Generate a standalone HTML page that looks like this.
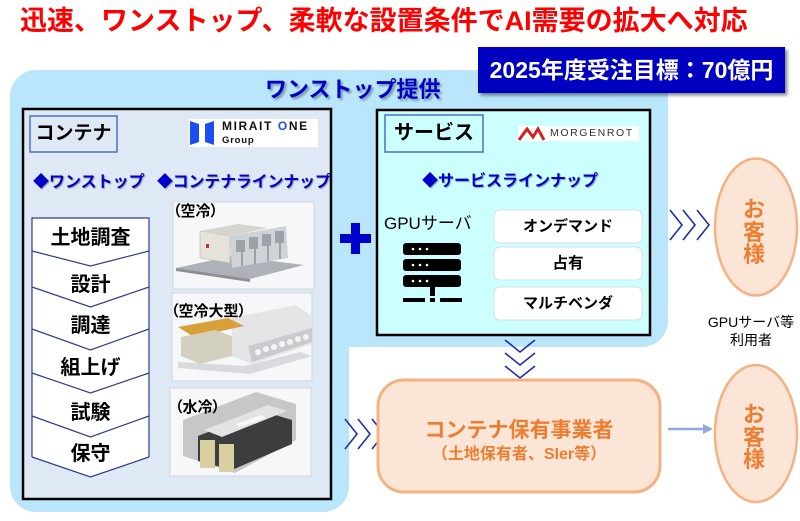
<!DOCTYPE html>
<html><head><meta charset="utf-8">
<style>
*{margin:0;padding:0;box-sizing:border-box}
html,body{width:800px;height:521px;background:#fff;overflow:hidden}
body{position:relative;font-family:"Liberation Sans","Noto Sans CJK JP",sans-serif}
.t{position:absolute;white-space:nowrap;line-height:1}
.c{text-align:center}
.b{font-weight:bold}
.blue{color:#0000cc;text-shadow:1px 1px 1px rgba(0,0,0,0.35)}
svg{position:absolute;left:0;top:0}
</style></head><body>
<svg width="800" height="521" viewBox="0 0 800 521">
  <defs>
    <filter id="sh" x="-5%" y="-5%" width="115%" height="130%">
      <feDropShadow dx="2.5" dy="2.5" stdDeviation="1.5" flood-color="#000" flood-opacity="0.45"/>
    </filter>
  </defs>
  <!-- outer light blue L-shape -->
  <path d="M10,96 A26,26 0 0 1 36,70 H642 A26,26 0 0 1 668,96 V321 A26,26 0 0 1 642,347 H349 V486 A26,26 0 0 1 323,512 H36 A26,26 0 0 1 10,486 Z" fill="#b9e6fb"/>
  <!-- 2025 box -->
  <rect x="478" y="47" width="307" height="46" fill="#0000c0" filter="url(#sh)"/>
  <!-- container box -->
  <rect x="23" y="109" width="308" height="390" fill="#dee9f5" stroke="#000" stroke-width="2.5"/>
  <!-- service box -->
  <rect x="377" y="110" width="273" height="225" fill="#ccffff" stroke="#000" stroke-width="2.5"/>
  <!-- label boxes -->
  <rect x="30" y="116" width="87" height="36" fill="#dee9f5" stroke="#4a72c0" stroke-width="1.5"/>
  <rect x="385" y="115" width="98" height="37" fill="#ccffff" stroke="#4a72c0" stroke-width="1.5"/>
  <!-- MIRAIT ONE logo -->
  <rect x="189" y="119" width="129" height="28" fill="#fff"/>
  <polygon points="190,121 199,124 199,142 190,145" fill="#1a4ff0"/>
  <polygon points="205,124 214,121 214,145 205,142" fill="#1a4ff0"/>
  <!-- MORGENROT logo -->
  <rect x="518" y="126" width="121" height="15" fill="#fff"/>
  <polyline points="519,140 527,129 533,137 538,129 544,140" fill="none" stroke="#d02020" stroke-width="3" stroke-linejoin="miter"/>
  <!-- chevron list -->
  <polygon points="32,218 149,218 149,457 90.5,477 32,457" fill="#fff"/>
  <g fill="none" stroke="#2e3f8e" stroke-width="1.2">
    <polyline points="32,457 32,218 149,218 149,457"/>
    <polyline points="32,251 90.5,266 149,251"/>
    <polyline points="32,287 90.5,307 149,287"/>
    <polyline points="32,329 90.5,350 149,329"/>
    <polyline points="32,373 90.5,393 149,373"/>
    <polyline points="32,416 90.5,437 149,416"/>
    <polyline points="32,457 90.5,477 149,457"/>
  </g>
  <!-- image box 1 -->
  <rect x="173" y="202" width="141" height="87" fill="#f6f7f9" stroke="#cfd7e0" stroke-width="1"/>
  <polygon points="176,268 250,279 304,265 232,256" fill="#aeb2b8"/>
  <polygon points="176,268 250,279 250,282 176,271" fill="#8c9096"/>
  <polygon points="200,231 230,236 230,263 200,258" fill="#e6e3db" stroke="#b8b5ad" stroke-width="0.6"/>
  <polygon points="200,231 230,236 268,228 238,224" fill="#d6d4cf"/>
  <polygon points="230,236 286,226 288,258 232,268" fill="#cfd2d6"/>
  <g fill="#9da2a8">
    <rect x="236" y="240" width="9" height="12"/><rect x="249" y="237" width="9" height="12"/>
    <rect x="262" y="234" width="9" height="12"/><rect x="275" y="231" width="9" height="12"/>
  </g>
  <g stroke="#7d8288" stroke-width="1.2">
    <line x1="242" y1="252" x2="242" y2="266"/><line x1="255" y1="249" x2="255" y2="264"/>
    <line x1="268" y1="246" x2="268" y2="261"/><line x1="280" y1="243" x2="280" y2="259"/>
  </g>
  <rect x="206" y="244" width="3" height="4" fill="#c03030"/>
  <!-- image box 2 -->
  <rect x="172" y="293" width="140" height="88" fill="#f6f7f9" stroke="#cfd7e0" stroke-width="1"/>
  <polygon points="232,318 296,305 312,316 312,344 252,364 232,356" fill="#e4e5e7"/>
  <polygon points="248,346 312,328 312,342 252,362" fill="#c9cbce"/>
  <g fill="#f4f4f4">
    <circle cx="258" cy="352" r="3"/><circle cx="266" cy="349" r="3"/><circle cx="274" cy="347" r="3"/>
    <circle cx="282" cy="344" r="3"/><circle cx="290" cy="342" r="3"/><circle cx="298" cy="339" r="3"/><circle cx="306" cy="337" r="3"/>
  </g>
  <polygon points="178,327 228,318 244,326 194,337" fill="#d9a03a"/>
  <polygon points="181,337 215,330 232,336 232,356 200,364 181,356" fill="#d4d0c0"/>
  <polygon points="178,362 244,366 300,352 312,356 250,374 178,368" fill="#d8dadd"/>
  <!-- image box 3 -->
  <rect x="170" y="388" width="141" height="88" fill="#f6f7f9" stroke="#cfd7e0" stroke-width="1"/>
  <polygon points="183,420 256,392 296,404 296,440 235,473 183,456" fill="#c6c7c9"/>
  <polygon points="198,436 262,411 292,420 292,444 232,470 198,461" fill="#3c3d3f"/>
  <polygon points="204,430 268,405 287,411 222,437" fill="#e2e3e4"/>
  <polygon points="236,424 262,415 266,418 240,427" fill="#f8f8f8"/>
  <rect x="200" y="440" width="15" height="28" fill="#d9d0a2"/>
  <rect x="219" y="444" width="15" height="28" fill="#d9d0a2"/>
  <!-- plus -->
  <rect x="340" y="234" width="31" height="9" fill="#0000cc"/>
  <rect x="351" y="223" width="9" height="31" fill="#0000cc"/>
  <!-- server icon -->
  <g fill="#000">
    <rect x="403" y="243" width="58" height="12" rx="3"/>
    <rect x="403" y="259" width="58" height="12" rx="3"/>
    <rect x="403" y="275" width="58" height="12" rx="3"/>
    <rect x="430" y="287" width="5" height="9"/>
    <rect x="403" y="298" width="22" height="4"/>
    <rect x="430" y="298" width="5" height="4"/>
    <rect x="440" y="298" width="22" height="4"/>
  </g>
  <g fill="#fff">
    <circle cx="413" cy="249" r="1.3"/><circle cx="420" cy="249" r="1.3"/><circle cx="427" cy="249" r="1.3"/>
    <circle cx="413" cy="265" r="1.3"/><circle cx="420" cy="265" r="1.3"/><circle cx="427" cy="265" r="1.3"/>
    <circle cx="413" cy="281" r="1.3"/><circle cx="420" cy="281" r="1.3"/><circle cx="427" cy="281" r="1.3"/>
  </g>
  <!-- service buttons -->
  <g fill="#fff" stroke="#d8dde2" stroke-width="1">
    <rect x="494" y="210" width="148" height="33" rx="6"/>
    <rect x="494" y="247" width="148" height="33" rx="6"/>
    <rect x="494" y="287" width="148" height="33" rx="6"/>
  </g>
  <!-- chevrons -->
  <g fill="none" stroke="#1c2fa8" stroke-width="1.6">
    <polyline points="505,340 520,352 535,340"/>
    <polyline points="505,353 520,365 535,353"/>
    <polyline points="505,366 520,378 535,366"/>
    <polyline points="670,210 682,225 670,240"/>
    <polyline points="683,210 695,225 683,240"/>
    <polyline points="697,210 709,225 697,240"/>
    <polyline points="345,419 357,434 345,449"/>
    <polyline points="358,419 370,434 358,449"/>
    <polyline points="372,419 384,434 372,449"/>
  </g>
  <!-- orange box -->
  <rect x="378" y="380" width="282" height="112" rx="26" fill="#fbe5d6" stroke="#f4b183" stroke-width="3"/>
  <!-- arrow -->
  <line x1="668" y1="429" x2="705" y2="429" stroke="#8faadc" stroke-width="2.5"/>
  <polygon points="703,424 713,429 703,434" fill="#8faadc"/>
  <!-- ellipses -->
  <ellipse cx="756" cy="227" rx="41" ry="68.5" fill="#fbe5d6" stroke="#f4b183" stroke-width="2.5"/>
  <ellipse cx="756" cy="433.5" rx="41" ry="68.5" fill="#fbe5d6" stroke="#f4b183" stroke-width="2.5"/>
</svg>

<div class="t b" style="left:20px;top:8px;font-size:27px;color:#ff0000;">迅速、ワンストップ、柔軟な設置条件でAI需要の拡大へ対応</div>
<div class="t b c" style="left:478px;top:59px;width:307px;font-size:23px;color:#fff;">2025年度受注目標：70億円</div>
<div class="t b blue" style="left:265px;top:79px;font-size:22px;text-shadow:2px 2px 2px rgba(0,0,0,0.35);">ワンストップ提供</div>

<div class="t b c" style="left:30px;top:124px;width:87px;font-size:19px;color:#000;">コンテナ</div>
<div class="t b" style="left:222px;top:120px;font-size:12px;letter-spacing:1.6px;color:#111;">MIRAIT <span style="color:#1a4ff0">O</span>NE</div>
<div class="t b" style="left:222px;top:136px;font-size:9.5px;letter-spacing:0.8px;color:#111;">Group</div>

<div class="t b c" style="left:385px;top:123px;width:98px;font-size:20px;color:#000;">サービス</div>
<div class="t" style="left:550px;top:128px;font-size:10.5px;letter-spacing:1.6px;color:#333;">MORGENROT</div>

<div class="t b blue" style="left:33px;top:175px;font-size:16px;">◆ワンストップ</div>
<div class="t b blue" style="left:157px;top:175px;font-size:15.8px;">◆コンテナラインナップ</div>
<div class="t b blue" style="left:422px;top:174px;font-size:16px;">◆サービスラインナップ</div>

<div class="t b c" style="left:32px;top:228px;width:117px;font-size:20px;">土地調査</div>
<div class="t b c" style="left:32px;top:275px;width:117px;font-size:20px;">設計</div>
<div class="t b c" style="left:32px;top:316px;width:117px;font-size:20px;">調達</div>
<div class="t b c" style="left:32px;top:358px;width:117px;font-size:20px;">組上げ</div>
<div class="t b c" style="left:32px;top:403px;width:117px;font-size:20px;">試験</div>
<div class="t b c" style="left:32px;top:444px;width:117px;font-size:20px;">保守</div>

<div class="t b" style="left:173px;top:204px;font-size:15px;font-feature-settings:'palt';">（空冷）</div>
<div class="t b" style="left:171px;top:304px;font-size:15px;font-feature-settings:'palt';">（空冷大型）</div>
<div class="t b" style="left:175px;top:400px;font-size:15px;font-feature-settings:'palt';">（水冷）</div>

<div class="t" style="left:384px;top:215px;font-size:17px;color:#000;">GPUサーバ</div>
<div class="t b c" style="left:494px;top:219px;width:148px;font-size:15px;">オンデマンド</div>
<div class="t b c" style="left:494px;top:256px;width:148px;font-size:15.5px;">占有</div>
<div class="t b c" style="left:494px;top:296px;width:148px;font-size:15px;">マルチベンダ</div>

<div class="t b c" style="left:378px;top:420px;width:282px;font-size:21px;color:#ed7d31;">コンテナ保有事業者</div>
<div class="t b c" style="left:378px;top:447px;width:282px;font-size:16px;color:#ed7d31;">（土地保有者、SIer等）</div>

<div class="t b c" style="left:733px;top:199px;width:42px;font-size:22px;line-height:22.5px;color:#ed7d31;">お<br>客<br>様</div>
<div class="t b c" style="left:733px;top:404px;width:42px;font-size:22px;line-height:22.5px;color:#ed7d31;">お<br>客<br>様</div>

<div class="t c" style="left:700px;top:313px;width:102px;font-size:14px;line-height:18px;color:#000;">GPUサーバ等<br>利用者</div>
</body></html>
